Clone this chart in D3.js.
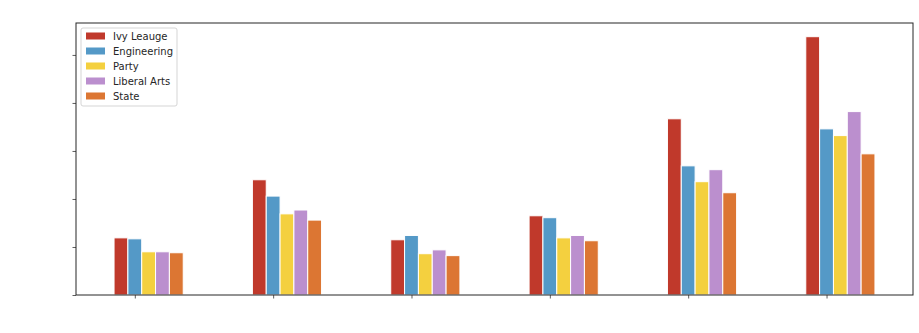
<!DOCTYPE html>
<html>
<head>
<meta charset="utf-8">
<script src="https://cdn.jsdelivr.net/npm/d3@7"></script>
<style>
  html, body { margin: 0; padding: 0; background: #fff; }
  svg { display: block; }
</style>
</head>
<body>
<div id="chart"></div>
<script>
// Grouped bar chart: five school types across six groups
const groups = [0, 1, 2, 3, 4, 5];
const seriesNames = ["Ivy Leauge", "Engineering", "Party", "Liberal Arts", "State"];
const seriesColors = ["#c0392b", "#5499c7", "#f4d03f", "#bb8fce", "#dc7633"];
const ivyLeague   = [11.9, 24.0, 11.5, 16.5, 36.7, 53.8];
const engineering = [11.7, 20.6, 12.4, 16.1, 26.9, 34.6];
const party       = [9.0, 16.9, 8.6, 11.9, 23.6, 33.2];
const liberalArts = [9.0, 17.7, 9.4, 12.4, 26.1, 38.2];
const state       = [8.8, 15.6, 8.2, 11.3, 21.3, 29.4];
const yTicks = [0, 10, 20, 30, 40, 50];

const series = [ivyLeague, engineering, party, liberalArts, state];
const barWidth = 0.1;             // in group units
const offsets = [-0.1, 0, 0.1, 0.2, 0.3];

const W = 919, H = 333;
const margin = { left: 76, right: 6, top: 23, bottom: 38 };
const iw = W - margin.left - margin.right;
const ih = H - margin.top - margin.bottom;

const svg = d3.select("#chart").append("svg")
  .attr("width", W).attr("height", H);
const g = svg.append("g").attr("transform", `translate(${margin.left},${margin.top})`);

const x = d3.scaleLinear().domain([-0.425, 5.625]).range([0, iw]);
const yMax = d3.max(series.flat()) * 1.053;
const y = d3.scaleLinear().domain([0, yMax]).range([ih, 0]);

// bars
series.forEach((vals, si) => {
  g.append("g").selectAll("rect")
    .data(vals)
    .join("rect")
    .attr("x", (d, i) => x(groups[i] + offsets[si] - barWidth / 2))
    .attr("width", x(barWidth) - x(0))
    .attr("y", d => y(d))
    .attr("height", d => y(0) - y(d))
    .attr("fill", seriesColors[si])
    .attr("stroke", "#fff")
    .attr("stroke-width", 1);
});

// axes (tick marks only)
const xAxis = d3.axisBottom(x).tickValues(groups).tickSize(3.5).tickFormat("");
const yAxis = d3.axisLeft(y).tickValues(yTicks).tickSize(3.5).tickFormat("");
const gx = g.append("g").attr("transform", `translate(0,${ih})`).call(xAxis);
const gy = g.append("g").call(yAxis);
[gx, gy].forEach(a => {
  a.select(".domain").remove();
  a.selectAll(".tick line").attr("stroke", "#333").attr("stroke-width", 0.8);
});

// frame
g.append("rect")
  .attr("x", 0).attr("y", 0).attr("width", iw).attr("height", ih)
  .attr("fill", "none").attr("stroke", "#262626").attr("stroke-width", 1);

// legend
const lg = g.append("g").attr("transform", "translate(5,5)");
lg.append("rect")
  .attr("x", 0).attr("y", 0).attr("width", 96).attr("height", 78)
  .attr("rx", 2).attr("ry", 2)
  .attr("fill", "#fff").attr("fill-opacity", 0.8)
  .attr("stroke", "#d5d5d5").attr("stroke-width", 1);
seriesNames.forEach((name, i) => {
  const row = lg.append("g").attr("transform", `translate(0,${8 + i * 15})`);
  row.append("rect").attr("x", 5).attr("y", -3.5).attr("width", 19).attr("height", 7)
    .attr("fill", seriesColors[i]);
  row.append("text").attr("x", 32).attr("y", 0).attr("dy", "0.35em")
    .attr("font-family", "DejaVu Sans, sans-serif").attr("font-size", 10)
    .attr("fill", "#262626").text(name);
});
</script>
</body>
</html>
